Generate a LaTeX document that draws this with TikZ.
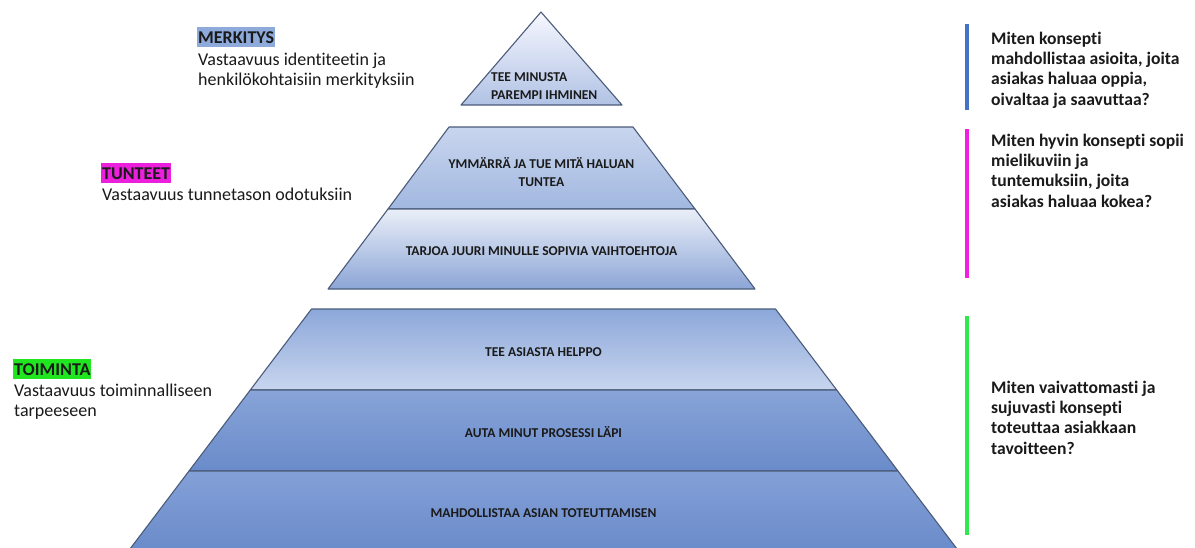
\documentclass[tikz,border=0pt]{standalone}
\usepackage{fontspec}
\setmainfont{Carlito}[Ligatures=NoCommon]
\definecolor{edge}{HTML}{4B5C7A}
\definecolor{hlblue}{HTML}{8EAADB}
\definecolor{hlpink}{HTML}{EC1FDC}
\definecolor{hlgreen}{HTML}{1FE61F}
\definecolor{barblue}{HTML}{4472C4}
\definecolor{barpink}{HTML}{F020E0}
\definecolor{bargreen}{HTML}{2EE84E}
\definecolor{inktext}{HTML}{1A1A1A}
\begin{document}
\begin{tikzpicture}[x=1pt,y=-1pt,
  tier/.style={draw=edge, line width=1.1pt, line join=round},
  tiertext/.style={font=\bfseries\fontsize{13.5}{17.5}\selectfont, text=inktext, inner sep=0pt, anchor=base},
  heading/.style={anchor=base west, inner xsep=1pt, inner ysep=1pt, text height=15pt, text depth=3pt, font=\bfseries\fontsize{18}{20}\selectfont, text=inktext},
  body/.style={anchor=base west, align=left, inner sep=0pt, font=\fontsize{18}{20}\selectfont, text=inktext},
  question/.style={anchor=base west, align=left, inner sep=0pt, font=\bfseries\fontsize{17.6}{20.4}\selectfont, text=inktext},
  bar/.style={line width=4pt}]
\useasboundingbox (0,0) rectangle (1195,547);
\fill[white] (0,0) rectangle (1195,547);

% --- top: meaning ---
\path[tier, top color=white!92!blue!40, bottom color={rgb,255:red,176;green,194;blue,228}]
  (541,12) -- (622,105) -- (461,105) -- cycle;

% --- middle: feelings ---
\path[tier, top color={rgb,255:red,200;green,213;blue,238}, bottom color={rgb,255:red,162;green,184;blue,224}]
  (449,127) -- (633,127) -- (695,209) -- (388,209) -- cycle;
\path[tier, top color={rgb,255:red,234;green,239;blue,248}, bottom color={rgb,255:red,140;green,165;blue,214}]
  (388,209) -- (695,209) -- (755,289) -- (328,289) -- cycle;

% --- bottom: action ---
\path[tier, top color={rgb,255:red,140;green,168;blue,218}, bottom color={rgb,255:red,200;green,213;blue,238}]
  (311.5,309) -- (775.5,309) -- (836.7,390) -- (250.3,390) -- cycle;
\path[tier, top color={rgb,255:red,136;green,164;blue,216}, bottom color={rgb,255:red,106;green,139;blue,202}]
  (250.3,390) -- (836.7,390) -- (898,471) -- (189,471) -- cycle;
\path[tier, top color={rgb,255:red,132;green,160;blue,215}, bottom color={rgb,255:red,106;green,139;blue,202}]
  (189,471) -- (898,471) -- (957.8,550) -- (129.2,550) -- cycle;

% tier captions (multi-line nodes are anchored on their last baseline)
\node[tiertext, align=left, anchor=base west] (c1) at (491,99) {TEE MINUSTA\\PAREMPI IHMINEN};
\node[tiertext, align=center] (c2) at (541.5,186) {YMMÄRRÄ JA TUE MITÄ HALUAN\\TUNTEA};
\node[tiertext] (c3) at (541.5,255) {TARJOA JUURI MINULLE SOPIVIA VAIHTOEHTOJA};
\node[tiertext] (c4) at (543.5,356) {TEE ASIASTA HELPPO};
\node[tiertext] (c5) at (543.5,437) {AUTA MINUT PROSESSI LÄPI};
\node[tiertext] (c6) at (543.5,517) {MAHDOLLISTAA ASIAN TOTEUTTAMISEN};

% level headings and descriptions
\node[heading, fill=hlblue] (h1) at (197,43) {MERKITYS};
\node[body] (d1) at (198,85) {Vastaavuus identiteetin ja\\henkilökohtaisiin merkityksiin};
\node[heading, fill=hlpink] (h2) at (101,179) {TUNTEET};
\node[body] (d2) at (102,200) {Vastaavuus tunnetason odotuksiin};
\node[heading, fill=hlgreen] (h3) at (13,375) {TOIMINTA};
\node[body] (d3) at (14,416) {Vastaavuus toiminnalliseen\\tarpeeseen};

% side bars and questions
\coordinate (b1t) at (967,24);  \coordinate (b1b) at (967,110);
\coordinate (b2t) at (967,129); \coordinate (b2b) at (967,278);
\coordinate (b3t) at (967,316); \coordinate (b3b) at (967,535);
\draw[bar, barblue] (b1t) -- (b1b);
\draw[bar, barpink] (b2t) -- (b2b);
\draw[bar, bargreen] (b3t) -- (b3b);
\node[question] (q1) at (991,105.2) {Miten konsepti\\mahdollistaa asioita, joita\\asiakas haluaa oppia,\\oivaltaa ja saavuttaa?};
\node[question] (q2) at (991,207.2) {Miten hyvin konsepti sopii\\mielikuviin ja\\tuntemuksiin, joita\\asiakas haluaa kokea?};
\node[question] (q3) at (991,454.2) {Miten vaivattomasti ja\\sujuvasti konsepti\\toteuttaa asiakkaan\\tavoitteen?};
\end{tikzpicture}
\end{document}
